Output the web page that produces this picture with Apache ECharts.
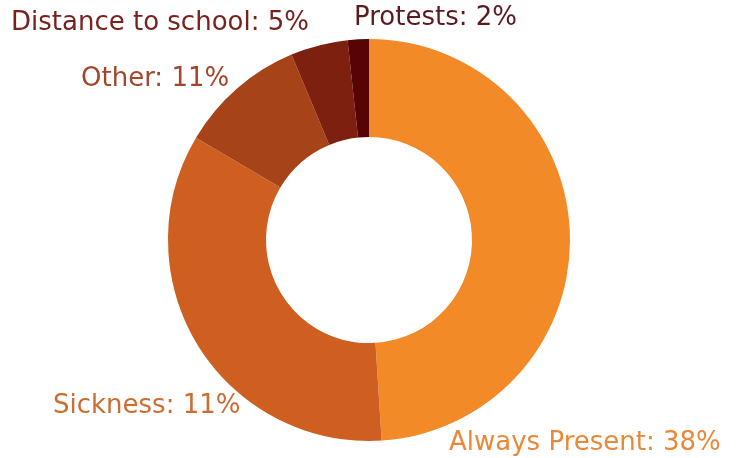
<!DOCTYPE html>
<html>
<head>
<meta charset="utf-8">
<script src="https://cdn.jsdelivr.net/npm/echarts@6/dist/echarts.min.js"></script>
<style>
  html, body { margin: 0; padding: 0; background: #fff; }
  #chart { width: 751px; height: 458px; }
</style>
</head>
<body>
<div id="chart"></div>
<script>
const categories = ["Always Present", "Sickness", "Other", "Distance to school", "Protests"];
const sliceValues = [49, 34.5, 10.2, 4.6, 1.7];
const labelPercents = [38, 11, 11, 5, 2];

const sliceColors = ["#F28A27", "#CE5F20", "#A74318", "#7E200F", "#560404"];
const labelColors = ["#EA8838", "#CE6C30", "#A3462A", "#782220", "#5C1A20"];
// label anchor (left, middle) for each slice
const labelPos = [[449, 443], [53, 406], [81, 79], [11, 23], [354, 18]];

const chart = echarts.init(document.getElementById("chart"));

chart.setOption({
  animation: false,
  series: [
    {
      type: "pie",
      center: [369, 240],
      radius: [103, 201],
      startAngle: 90,
      clockwise: true,
      data: categories.map((name, i) => ({
        name: name,
        value: sliceValues[i],
        itemStyle: { color: sliceColors[i] },
        label: { color: labelColors[i] },
      })),
      label: {
        show: true,
        position: "outside",
        fontFamily: "DejaVu Sans, sans-serif",
        fontSize: 26,
        overflow: "none",
        formatter: (p) => p.name + ": " + labelPercents[p.dataIndex] + "%",
      },
      labelLine: { show: false },
      labelLayout: (p) => ({
        x: labelPos[p.dataIndex][0],
        y: labelPos[p.dataIndex][1],
        align: "left",
        verticalAlign: "middle",
      }),
      emphasis: { disabled: true },
    },
  ],
});
</script>
</body>
</html>
